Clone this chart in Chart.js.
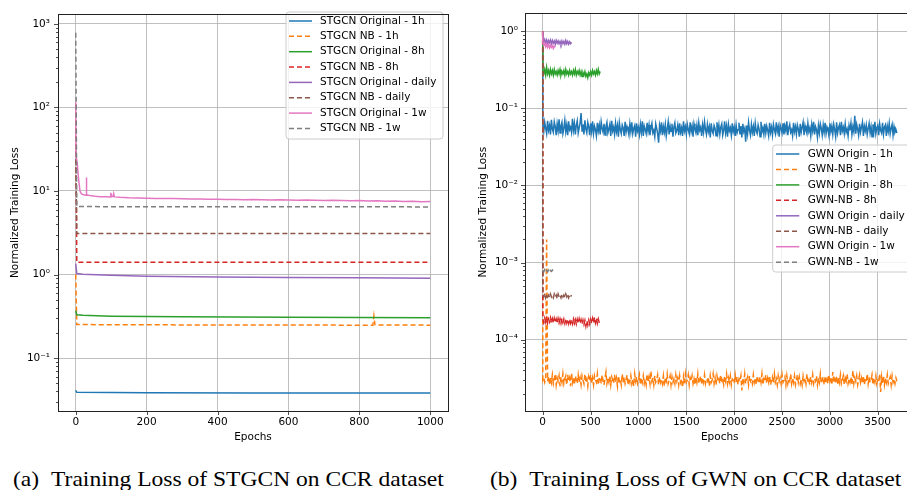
<!DOCTYPE html>
<html>
<head>
<meta charset="utf-8">
<script src="https://cdn.jsdelivr.net/npm/chart.js@4.4.1/dist/chart.umd.min.js"></script>
<style>
  html, body { margin: 0; padding: 0; background: #fff; }
  #page { position: relative; width: 907px; height: 490px; overflow: hidden; background: #fff; }
  canvas { position: absolute; top: 0; }
  #left { left: 0; }
  #right { left: 460px; }
  .caption {
    position: absolute; top: 466px;
    font-family: 'Liberation Serif', 'Times New Roman', serif;
    font-size: 22px; line-height: 26px; color: #000; white-space: nowrap;
    transform: scaleX(1.07); transform-origin: left top;
  }
  .caption .tag { margin-right: 6px; }
</style>
</head>
<body>
<div id="page">
  <canvas id="left" width="455" height="446"></canvas>
  <canvas id="right" width="460" height="446"></canvas>
  <div class="caption" style="left:13px"><span class="tag">(a)</span> Training Loss of STGCN on CCR dataset</div>
  <div class="caption" style="left:490px"><span class="tag">(b)</span> Training Loss of GWN on CCR dataset</div>
</div>
<script>
// ---- (a) STGCN ----
const stgcnXTicks = [0, 200, 400, 600, 800, 1000];

const stgcnOrig1hEpochs = [0, 3, 200, 500, 1000];
const stgcnOrig1h = [0.041, 0.039, 0.0385, 0.0383, 0.0382];

const stgcnNB1hEpochs = [0, 3, 400, 838, 841, 844, 1000];
const stgcnNB1h = [1.0, 0.252, 0.249, 0.248, 0.32, 0.25, 0.248];

const stgcnOrig8hEpochs = [0, 3, 20, 100, 300, 600, 1000];
const stgcnOrig8h = [0.37, 0.33, 0.325, 0.318, 0.312, 0.308, 0.305];

const stgcnNB8hEpochs = [0, 3, 1000];
const stgcnNB8h = [110, 1.4, 1.4];

const stgcnOrigDailyEpochs = [0, 3, 20, 100, 200, 400, 600, 800, 1000];
const stgcnOrigDaily = [1.35, 1.03, 1.01, 0.98, 0.955, 0.935, 0.925, 0.915, 0.905];

const stgcnNBDailyEpochs = [0, 3, 1000];
const stgcnNBDaily = [30, 3.1, 3.1];

const stgcnOrig1wEpochs = [0, 1, 4, 8, 12, 16, 22, 29, 30, 31, 40, 55, 70, 85, 97, 99, 101, 105, 107, 109,
  125, 150, 175, 200, 225, 250, 275, 300, 325, 350, 375, 400, 425, 450, 475, 500, 525, 550, 575, 600,
  625, 650, 675, 700, 725, 750, 775, 800, 825, 850, 875, 900, 925, 950, 975, 1000];
const stgcnOrig1w = [115, 26, 22, 14, 10, 9.2, 9.0, 8.9, 14.5, 9.0, 8.8, 8.65, 8.55, 8.5, 8.45, 9.5, 8.6, 8.6, 9.3, 8.5,
  8.4, 8.3, 8.25, 8.2, 8.15, 8.1, 8.1, 8.05, 8.0, 8.0, 7.95, 7.95, 7.9, 7.9, 7.85, 7.9, 7.85, 7.8, 7.85, 7.8,
  7.75, 7.8, 7.75, 7.7, 7.75, 7.7, 7.65, 7.7, 7.6, 7.65, 7.55, 7.6, 7.5, 7.55, 7.45, 7.5];

const stgcnNB1wEpochs = [0, 3, 1000];
const stgcnNB1w = [780, 6.5, 6.45];

// ---- (b) GWN ----
// every GWN curve starts at 1.0 (epoch 0), then one reading every 10 epochs
const gwnXTicks = [0, 500, 1000, 1500, 2000, 2500, 3000, 3500];
const GWN_START = 1.0;

// epochs 1, 11, 21 ... 3701
const gwnOrigin1h = [
  0.062, 0.050, 0.066, 0.055, 0.047, 0.069, 0.052, 0.060, 0.046, 0.071,
  0.054, 0.049, 0.067, 0.058, 0.045, 0.063, 0.051, 0.072, 0.048, 0.059,
  0.066, 0.047, 0.055, 0.070, 0.050, 0.061, 0.045, 0.068, 0.053, 0.057,
  0.049, 0.073, 0.052, 0.064, 0.046, 0.060, 0.069, 0.048, 0.056, 0.065,
  0.087, 0.051, 0.062, 0.046, 0.070, 0.054, 0.048, 0.066, 0.058, 0.045,
  0.064, 0.050, 0.068, 0.047, 0.059, 0.053, 0.044, 0.065, 0.051, 0.061,
  0.046, 0.067, 0.055, 0.049, 0.063, 0.045, 0.058, 0.066, 0.048, 0.054,
  0.062, 0.044, 0.069, 0.051, 0.057, 0.046, 0.064, 0.050, 0.060, 0.043,
  0.065, 0.053, 0.047, 0.061, 0.056, 0.044, 0.067, 0.049, 0.058, 0.052,
  0.045, 0.063, 0.050, 0.066, 0.047, 0.055, 0.060, 0.043, 0.064, 0.051,
  0.057, 0.046, 0.062, 0.049, 0.068, 0.044, 0.059, 0.053, 0.047, 0.065,
  0.050, 0.061, 0.045, 0.056, 0.064, 0.048, 0.052, 0.043, 0.063, 0.055,
  0.047, 0.036, 0.060, 0.051, 0.066, 0.045, 0.058, 0.049, 0.062, 0.044,
  0.054, 0.067, 0.046, 0.059, 0.050, 0.063, 0.043, 0.057, 0.065, 0.048,
  0.052, 0.061, 0.045, 0.064, 0.049, 0.056, 0.044, 0.068, 0.051, 0.058,
  0.046, 0.062, 0.053, 0.047, 0.066, 0.050, 0.059, 0.043, 0.063, 0.054,
  0.048, 0.060, 0.045, 0.065, 0.052, 0.057, 0.044, 0.061, 0.049, 0.067,
  0.053, 0.046, 0.062, 0.050, 0.058, 0.042, 0.064, 0.051, 0.047, 0.060,
  0.055, 0.044, 0.066, 0.049, 0.061, 0.046, 0.057, 0.063, 0.045, 0.052,
  0.068, 0.048, 0.059, 0.043, 0.062, 0.051, 0.056, 0.045, 0.064, 0.050,
  0.057, 0.044, 0.061, 0.048, 0.053, 0.065, 0.046, 0.059, 0.042, 0.063,
  0.050, 0.055, 0.037, 0.060, 0.047, 0.066, 0.052, 0.045, 0.062, 0.049,
  0.058, 0.044, 0.064, 0.051, 0.047, 0.061, 0.054, 0.043, 0.067, 0.050,
  0.056, 0.046, 0.063, 0.048, 0.059, 0.052, 0.044, 0.065, 0.049, 0.057,
  0.045, 0.062, 0.053, 0.047, 0.066, 0.050, 0.058, 0.043, 0.061, 0.055,
  0.048, 0.064, 0.046, 0.059, 0.051, 0.068, 0.045, 0.056, 0.062, 0.049,
  0.053, 0.044, 0.065, 0.050, 0.058, 0.046, 0.061, 0.054, 0.043, 0.063,
  0.049, 0.057, 0.066, 0.045, 0.060, 0.052, 0.047, 0.064, 0.050, 0.056,
  0.044, 0.062, 0.051, 0.067, 0.046, 0.058, 0.053, 0.042, 0.060, 0.048,
  0.063, 0.055, 0.045, 0.061, 0.049, 0.065, 0.047, 0.057, 0.052, 0.044,
  0.064, 0.050, 0.059, 0.046, 0.062, 0.053, 0.043, 0.066, 0.048, 0.056,
  0.061, 0.045, 0.067, 0.051, 0.057, 0.047, 0.063, 0.049, 0.054, 0.044,
  0.060, 0.052, 0.065, 0.046, 0.058, 0.050, 0.080, 0.047, 0.062, 0.054,
  0.045, 0.063, 0.049, 0.057, 0.066, 0.044, 0.059, 0.051, 0.061, 0.046,
  0.055, 0.064, 0.048, 0.058, 0.043, 0.062, 0.050, 0.067, 0.047, 0.056,
  0.060, 0.045, 0.063, 0.052, 0.048, 0.065, 0.046, 0.057, 0.061, 0.044,
  0.059, 0.050, 0.064, 0.047, 0.055, 0.062, 0.045, 0.058, 0.049, 0.053,
  0.048
];

// epochs 1, 11, 21 ... 3701, in units of 1e-5
const gwnNB1h = [
  3.0, 3.2, 2.8, 3.1, 200, 2.9, 3.4, 2.6, 3.3, 2.8,
  3.5, 2.7, 3.1, 3.6, 2.6, 3.2, 2.9, 3.4, 2.5, 3.3,
  2.8, 3.6, 2.7, 3.1, 3.4, 2.6, 3.5, 2.9, 3.2, 2.5,
  3.7, 2.8, 3.3, 2.6, 3.4, 3.0, 2.7, 3.5, 2.8, 3.2,
  2.6, 3.4, 3.0, 2.7, 3.6, 2.8, 3.1, 2.5, 3.3, 2.9,
  3.5, 2.7, 3.2, 2.6, 3.4, 3.0, 2.8, 3.6, 2.6, 3.1,
  3.3, 2.7, 3.5, 2.9, 2.6, 3.2, 3.8, 2.7, 3.1, 2.8,
  3.4, 2.6, 3.3, 3.0, 2.7, 3.5, 2.8, 3.2, 2.5, 3.4,
  2.9, 3.1, 2.6, 3.6, 2.8, 3.3, 2.7, 3.0, 3.5, 2.6,
  3.2, 2.8, 3.4, 2.7, 3.1, 2.5, 3.6, 2.9, 3.3, 2.7,
  3.0, 3.5, 2.6, 3.2, 2.8, 3.4, 2.7, 3.1, 2.6, 3.6,
  2.8, 3.3, 2.7, 3.9, 2.9, 3.2, 2.6, 3.4, 2.8, 3.0,
  3.5, 2.6, 3.3, 2.8, 3.1, 2.7, 3.4, 2.5, 3.2, 2.9,
  3.6, 2.7, 3.0, 3.4, 2.6, 3.3, 2.8, 3.1, 2.7, 3.5,
  2.9, 3.2, 2.6, 3.4, 2.8, 3.1, 2.4, 3.3, 2.7, 3.6,
  2.8, 3.0, 3.5, 2.6, 3.2, 2.9, 3.4, 2.7, 3.1, 2.6,
  3.3, 2.8, 3.6, 2.7, 3.0, 3.4, 2.6, 3.2, 2.8, 3.5,
  2.7, 3.1, 2.9, 3.3, 2.5, 3.4, 2.8, 3.0, 3.6, 2.7,
  3.2, 2.6, 3.4, 2.9, 3.1, 2.7, 3.5, 2.8, 3.0, 2.6,
  3.3, 2.9, 3.6, 2.7, 3.2, 2.8, 3.4, 2.6, 3.1, 3.0,
  2.7, 3.5, 2.8, 3.3, 2.6, 3.1, 2.9, 3.4, 2.2, 3.2,
  2.8, 3.6, 2.7, 3.0, 3.3, 2.6, 3.4, 2.9, 3.1, 2.7,
  3.5, 2.8, 3.2, 2.6, 3.4, 3.0, 2.7, 3.3, 2.8, 3.6,
  2.6, 3.1, 2.9, 3.5, 2.7, 3.2, 2.8, 3.4, 2.6, 3.0,
  3.3, 2.7, 3.6, 2.8, 3.1, 2.6, 3.4, 2.9, 3.2, 2.7,
  3.5, 2.8, 3.0, 3.3, 2.6, 3.4, 2.7, 3.1, 2.9, 3.6,
  2.7, 3.2, 2.8, 3.4, 2.6, 3.0, 3.5, 2.8, 3.3, 2.7,
  3.1, 2.6, 3.4, 2.9, 3.2, 2.7, 3.6, 2.8, 3.0, 2.6,
  3.3, 2.8, 3.5, 2.7, 3.1, 2.9, 3.4, 2.6, 3.2, 2.8,
  3.6, 2.7, 3.0, 3.3, 2.6, 3.4, 2.8, 3.1, 2.7, 3.5,
  2.9, 3.2, 2.6, 3.8, 2.8, 3.1, 2.7, 3.4, 2.6, 3.3,
  2.8, 3.5, 2.7, 3.0, 3.4, 2.6, 3.2, 2.9, 3.6, 2.7,
  3.1, 2.8, 3.3, 2.6, 4.0, 2.7, 3.2, 2.9, 3.4, 2.6,
  3.0, 3.5, 2.8, 3.2, 2.7, 3.4, 2.6, 3.1, 2.9, 3.6,
  2.7, 3.3, 2.8, 3.0, 3.5, 2.6, 3.2, 2.8, 3.4, 2.7,
  3.1, 2.9, 3.6, 2.1, 3.3, 2.7, 3.4, 2.6, 3.2, 2.8,
  3.5, 2.7, 3.0, 3.3, 2.6, 3.4, 2.8, 3.1, 2.7, 3.2,
  2.9
];

// epochs 1, 11, 21 ... 601
const gwnOrigin8h = [
  0.31, 0.28, 0.32, 0.27, 0.34, 0.28, 0.31, 0.27, 0.32, 0.28,
  0.31, 0.27, 0.32, 0.28, 0.30, 0.27, 0.31, 0.28, 0.32, 0.27,
  0.30, 0.28, 0.31, 0.27, 0.32, 0.28, 0.30, 0.27, 0.31, 0.28,
  0.30, 0.27, 0.31, 0.28, 0.32, 0.27, 0.30, 0.28, 0.31, 0.27,
  0.30, 0.26, 0.29, 0.27, 0.30, 0.26, 0.28, 0.25, 0.29, 0.27,
  0.30, 0.27, 0.31, 0.28, 0.30, 0.27, 0.31, 0.28, 0.32, 0.28,
  0.30
];

// epochs 1, 11, 21 ... 601, in units of 1e-4
const gwnNB8h = [
  1.85, 1.66, 1.90, 1.68, 1.88, 1.65, 1.86, 1.70, 1.92, 1.66,
  1.87, 1.64, 1.89, 1.67, 1.85, 1.63, 1.88, 1.66, 1.86, 1.64,
  1.89, 1.67, 1.85, 1.63, 1.87, 1.65, 1.84, 1.62, 1.86, 1.64,
  1.83, 1.61, 1.85, 1.63, 1.82, 1.60, 1.84, 1.62, 1.86, 1.63,
  1.82, 1.60, 1.80, 1.58, 1.78, 1.50, 1.76, 1.55, 1.79, 1.60,
  1.83, 1.62, 1.88, 1.64, 1.96, 1.66, 1.90, 1.63, 1.85, 1.65,
  1.80
];

// epochs 1, 11 ... 301
const gwnOriginDaily = [
  0.80, 0.72, 0.78, 0.70, 0.77, 0.69, 0.76, 0.71, 0.77, 0.69,
  0.76, 0.70, 0.75, 0.68, 0.76, 0.70, 0.75, 0.69, 0.74, 0.68,
  0.75, 0.69, 0.74, 0.68, 0.76, 0.69, 0.74, 0.68, 0.73, 0.69,
  0.72
];

// epochs 1, 11 ... 301, in units of 1e-4
const gwnNBDaily = [
  3.9, 3.6, 4.0, 3.5, 3.9, 3.6, 3.8, 3.5, 3.9, 3.6,
  3.8, 3.5, 3.9, 3.6, 3.8, 3.4, 3.9, 3.6, 3.8, 3.5,
  3.9, 3.6, 3.8, 3.5, 3.9, 3.6, 3.9, 3.5, 3.8, 3.6,
  3.8
];

// epochs 1, 11 ... 131
const gwnOrigin1w = [0.72, 0.66, 0.70, 0.63, 0.68, 0.62, 0.67, 0.61, 0.66, 0.62, 0.65, 0.60, 0.64, 0.62];

// epochs 1, 11 ... 121, in units of 1e-4
const gwnNB1w = [8.0, 7.6, 8.1, 7.5, 7.9, 7.6, 8.0, 7.5, 7.9, 7.7, 8.0, 7.6, 7.8];

const COLORS = ['#1f77b4', '#ff7f0e', '#2ca02c', '#d62728', '#9467bd', '#8c564b', '#e377c2', '#7f7f7f'];
const DASH = [5, 3];

Chart.defaults.font.family = "'DejaVu Sans', sans-serif";
Chart.defaults.font.size = 10.5;
Chart.defaults.color = '#000';

function paired(epochs, values) {
  return epochs.map((e, i) => ({ x: e, y: values[i] }));
}

function stepped(start, step, values, unit = 1, head = true) {
  const pts = values.map((v, i) => ({ x: start + i * step, y: v * unit }));
  return head ? [{ x: 0, y: GWN_START }].concat(pts) : pts;
}

function line(label, data, i) {
  const dashed = i % 2 === 1;
  return {
    label, data,
    borderColor: COLORS[i],
    backgroundColor: COLORS[i],
    borderWidth: 1.5,
    borderDash: dashed ? DASH : [],
    pointRadius: 0,
    fill: false,
    tension: 0,
    order: -i
  };
}

const SUP = { '0': '⁰', '1': '¹', '2': '²', '3': '³', '4': '⁴', '5': '⁵', '6': '⁶', '7': '⁷', '8': '⁸', '9': '⁹', '-': '⁻' };
function powLabel(v) {
  const e = String(Math.round(Math.log10(v)));
  return '10' + e.split('').map(c => SUP[c]).join('');
}

function logTicks(min, max) {
  const ticks = [];
  for (let e = Math.floor(Math.log10(min)); e <= Math.ceil(Math.log10(max)); e++) {
    for (let m = 1; m <= 9; m++) {
      const v = m * Math.pow(10, e);
      if (v >= min && v <= max) ticks.push({ value: v, major: m === 1 });
    }
  }
  return ticks;
}

// matplotlib-like frame, outward tick marks, boxed legend
const axesDecor = {
  id: 'axesDecor',
  afterDatasetsDraw(chart, args, o) {
    const ctx = chart.ctx;
    ctx.save();
    ctx.beginPath();
    if (ctx.roundRect) ctx.roundRect(o.left, o.top, o.width, o.height, 3);
    else ctx.rect(o.left, o.top, o.width, o.height);
    ctx.fillStyle = 'rgba(255,255,255,0.8)';
    ctx.fill();
    ctx.strokeStyle = '#cccccc';
    ctx.lineWidth = 1;
    ctx.stroke();
    ctx.font = "10.5px 'DejaVu Sans'";
    ctx.textBaseline = 'middle';
    ctx.textAlign = 'left';
    chart.data.datasets.forEach((ds, i) => {
      const y = o.top + o.firstRow + i * o.rowStep;
      ctx.beginPath();
      ctx.setLineDash(ds.borderDash);
      ctx.strokeStyle = ds.borderColor;
      ctx.lineWidth = ds.borderWidth;
      ctx.moveTo(o.left + o.handleStart, y);
      ctx.lineTo(o.left + o.handleEnd, y);
      ctx.stroke();
      ctx.setLineDash([]);
      ctx.fillStyle = '#000';
      ctx.fillText(ds.label, o.left + o.textStart, y);
    });
    ctx.restore();
  },
  afterDraw(chart) {
    const { ctx, chartArea: a, scales } = chart;
    ctx.save();
    ctx.strokeStyle = '#222';
    ctx.lineWidth = 0.8;
    ctx.beginPath();
    scales.x.ticks.forEach(t => {
      const px = Math.round(scales.x.getPixelForValue(t.value)) + 0.5;
      ctx.moveTo(px, a.bottom);
      ctx.lineTo(px, a.bottom + 4);
    });
    scales.y.ticks.forEach(t => {
      const py = Math.round(scales.y.getPixelForValue(t.value)) + 0.5;
      ctx.moveTo(a.left - (t.major ? 4 : 2), py);
      ctx.lineTo(a.left, py);
    });
    ctx.stroke();
    ctx.lineWidth = 1;
    ctx.strokeRect(Math.round(a.left) + 0.5, Math.round(a.top) + 0.5, Math.round(a.width), Math.round(a.height));
    ctx.restore();
  }
};

function makeChart(id, datasets, cfg) {
  return new Chart(document.getElementById(id), {
    type: 'line',
    data: { datasets },
    plugins: [axesDecor],
    options: {
      responsive: false,
      animation: false,
      events: [],
      devicePixelRatio: 1,
      layout: { padding: { left: 0, right: cfg.padRight, top: 6, bottom: 0 } },
      plugins: {
        legend: { display: false },
        tooltip: { enabled: false },
        axesDecor: cfg.legend
      },
      scales: {
        x: {
          type: 'linear',
          min: cfg.xMin,
          max: cfg.xMax,
          afterBuildTicks: s => { s.ticks = cfg.xTicks.map(v => ({ value: v })); },
          afterFit: s => { s.height = 35; },
          grid: { color: '#b0b0b0', lineWidth: 0.8, drawTicks: false },
          border: { display: false },
          ticks: { padding: 5, autoSkip: false, maxRotation: 0, callback: v => String(v) },
          title: { display: true, text: 'Epochs', padding: { top: 0, bottom: 2 } }
        },
        y: {
          type: 'logarithmic',
          min: cfg.yMin,
          max: cfg.yMax,
          afterBuildTicks: s => { s.ticks = logTicks(cfg.yMin, cfg.yMax); },
          afterFit: s => { s.width = cfg.yWidth; },
          grid: {
            color: c => (c.tick && c.tick.major ? '#b0b0b0' : 'rgba(0,0,0,0)'),
            lineWidth: 0.8,
            drawTicks: false
          },
          border: { display: false },
          ticks: {
            padding: cfg.yPad,
            autoSkip: false,
            callback: (v, i, ticks) => (ticks[i].major ? powLabel(v) : '')
          },
          title: { display: true, text: 'Normalized Training Loss', padding: { top: cfg.yTitlePad, bottom: 0 } }
        }
      }
    }
  });
}

makeChart('left', [
  line('STGCN Original - 1h', paired(stgcnOrig1hEpochs, stgcnOrig1h), 0),
  line('STGCN NB - 1h', paired(stgcnNB1hEpochs, stgcnNB1h), 1),
  line('STGCN Original - 8h', paired(stgcnOrig8hEpochs, stgcnOrig8h), 2),
  line('STGCN NB - 8h', paired(stgcnNB8hEpochs, stgcnNB8h), 3),
  line('STGCN Original - daily', paired(stgcnOrigDailyEpochs, stgcnOrigDaily), 4),
  line('STGCN NB - daily', paired(stgcnNBDailyEpochs, stgcnNBDaily), 5),
  line('STGCN Original - 1w', paired(stgcnOrig1wEpochs, stgcnOrig1w), 6),
  line('STGCN NB - 1w', paired(stgcnNB1wEpochs, stgcnNB1w), 7)
], {
  xMin: -50, xMax: 1050, xTicks: stgcnXTicks,
  yMin: 0.0233, yMax: 1300,
  yWidth: 58, yPad: 8, yTitlePad: 8.7, padRight: 7,
  legend: { left: 286, top: 12, width: 157, height: 127, firstRow: 9, rowStep: 15.35, handleStart: 3, handleEnd: 26, textStart: 34 }
});

makeChart('right', [
  line('GWN Origin - 1h', stepped(1, 10, gwnOrigin1h), 0),
  line('GWN-NB - 1h', stepped(1, 10, gwnNB1h, 1e-5), 1),
  line('GWN Origin - 8h', stepped(1, 10, gwnOrigin8h), 2),
  line('GWN-NB - 8h', stepped(1, 10, gwnNB8h, 1e-4), 3),
  line('GWN Origin - daily', stepped(1, 10, gwnOriginDaily), 4),
  line('GWN-NB - daily', stepped(1, 10, gwnNBDaily, 1e-4), 5),
  line('GWN Origin - 1w', stepped(1, 10, gwnOrigin1w), 6),
  line('GWN-NB - 1w', stepped(1, 10, gwnNB1w, 1e-4, false), 7)
], {
  xMin: -185, xMax: 3885, xTicks: gwnXTicks,
  yMin: 1.19e-5, yMax: 1.71,
  yWidth: 65, yPad: 7, yTitlePad: 17, padRight: 5.5,
  legend: { left: 312.7, top: 145, width: 140, height: 127, firstRow: 9, rowStep: 15.45, handleStart: 3.3, handleEnd: 26.6, textStart: 35 }
});
</script>
</body>
</html>
